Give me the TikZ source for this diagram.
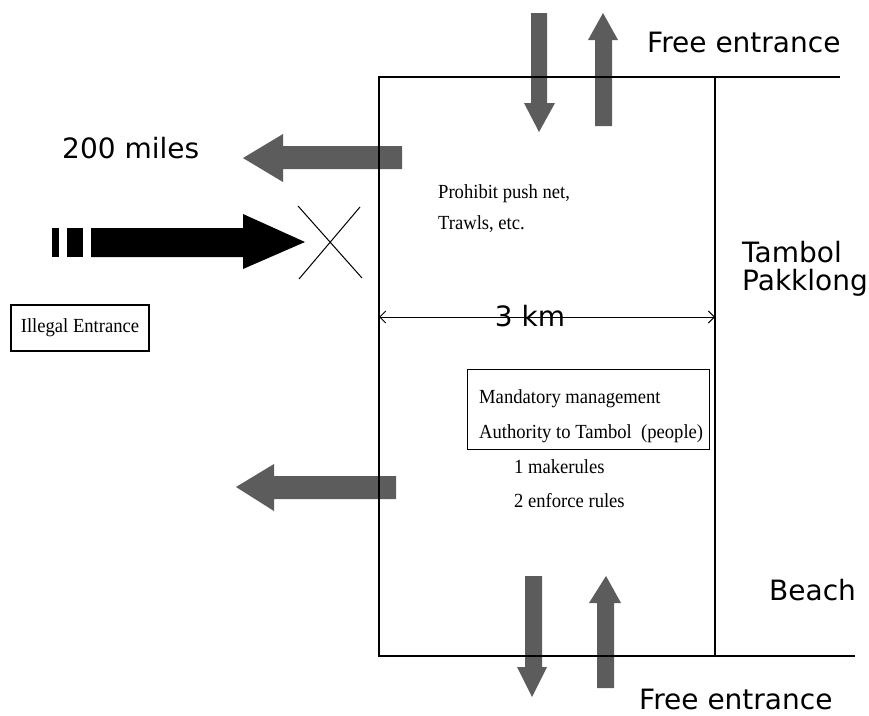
\documentclass[tikz,border=0pt]{standalone}
\usepackage{fontspec}
\usetikzlibrary{arrows.meta}
\newfontfamily\verd{DejaVu Sans}
\newfontfamily\tnr[FakeStretch=0.93]{Liberation Serif}
\begin{document}
\begin{tikzpicture}[x=1pt,y=-1pt,
  bigtext/.style={font=\verd\fontsize{28}{28}\selectfont, inner sep=0pt, anchor=base west},
  smalltext/.style={font=\tnr\fontsize{20}{20}\selectfont, inner sep=0pt, anchor=base west},
  grayarrow/.style={fill=black!64, draw=none},
  blackarrow/.style={fill=black, draw=none},
  frame/.style={line width=1.2pt},
  tag/.style={draw, line width=1.1pt, inner sep=0pt}]
\useasboundingbox (0,0) rectangle (869,715);

% arrows (drawn first so the zone lines pass over them)
\fill[grayarrow] (531,13) -- (547,13) -- (547,103) -- (555,103) -- (539,132) -- (524,103) -- (531,103) -- cycle;
\fill[grayarrow] (595,126) -- (612,126) -- (612,40) -- (618,40) -- (603,13) -- (588,40) -- (595,40) -- cycle;
\fill[grayarrow] (402,146) -- (402,169) -- (283,169) -- (283,182) -- (243,158) -- (283,134) -- (283,146) -- cycle;
\fill[grayarrow] (396,476) -- (396,499) -- (274,499) -- (274,511) -- (236,487) -- (274,464) -- (274,476) -- cycle;
\fill[grayarrow] (525,576) -- (542,576) -- (542,667) -- (547,667) -- (532,697) -- (517,667) -- (525,667) -- cycle;
\fill[grayarrow] (597,688) -- (614,688) -- (614,603) -- (621,603) -- (606,576) -- (589,603) -- (597,603) -- cycle;

% blocked entry from offshore
\fill[blackarrow] (52,228) rectangle (59,257);
\fill[blackarrow] (67,228) rectangle (83,257);
\fill[blackarrow] (91,228) -- (243,228) -- (243,214) -- (305,242) -- (243,269) -- (243,257) -- (91,257) -- cycle;
\coordinate (xa) at (298,206); \coordinate (xb) at (362,278);
\coordinate (xc) at (360,207); \coordinate (xd) at (299,279);
\draw[line width=1pt] (xa) -- (xb) (xc) -- (xd);

% the 3 km coastal zone
\coordinate (tl) at (379,77); \coordinate (tr) at (715,77);
\coordinate (bl) at (379,656); \coordinate (br) at (715,656);
\coordinate (te) at (840,77); \coordinate (be) at (855,656);
\draw[frame] (te) -- (tl) -- (bl) -- (be);
\draw[frame] (tr) -- (br);

% width of the zone
\coordinate (dl) at (379,317); \coordinate (dr) at (715,317);
\draw[line width=0.9pt, {Straight Barb[length=6pt,width=12pt]}-{Straight Barb[length=6pt,width=12pt]}] (dl) -- (dr);
\node[bigtext, anchor=base] (km) at (530,326) {3 km};

% labels
\node[bigtext] (fe1) at (647,52) {Free entrance};
\node[bigtext] (fe2) at (639,709) {Free entrance};
\node[bigtext] (miles) at (62,158) {200 miles};
\node[bigtext] (tam) at (742,262) {Tambol};
\node[bigtext] (pak) at (742,290) {Pakklong};
\node[bigtext] (beach) at (769,600) {Beach};

\node[smalltext] (pro1) at (438,198) {Prohibit push net,};
\node[smalltext] (pro2) at (438,229) {Trawls, etc.};

\node[tag, minimum width=138pt, minimum height=46pt, font=\tnr\fontsize{20}{20}\selectfont] (ill) at (80,328) {Illegal Entrance};

\node[tag, anchor=north west, minimum width=242pt, minimum height=80pt] (mgmt) at (467,369) {};
\node[smalltext] (m1) at (479,403) {Mandatory management};
\node[smalltext] (m2) at (479,438) {Authority to Tambol\ \ (people)};
\node[smalltext] (r1) at (514,473) {1 makerules};
\node[smalltext] (r2) at (514,507) {2 enforce rules};
\end{tikzpicture}
\end{document}
